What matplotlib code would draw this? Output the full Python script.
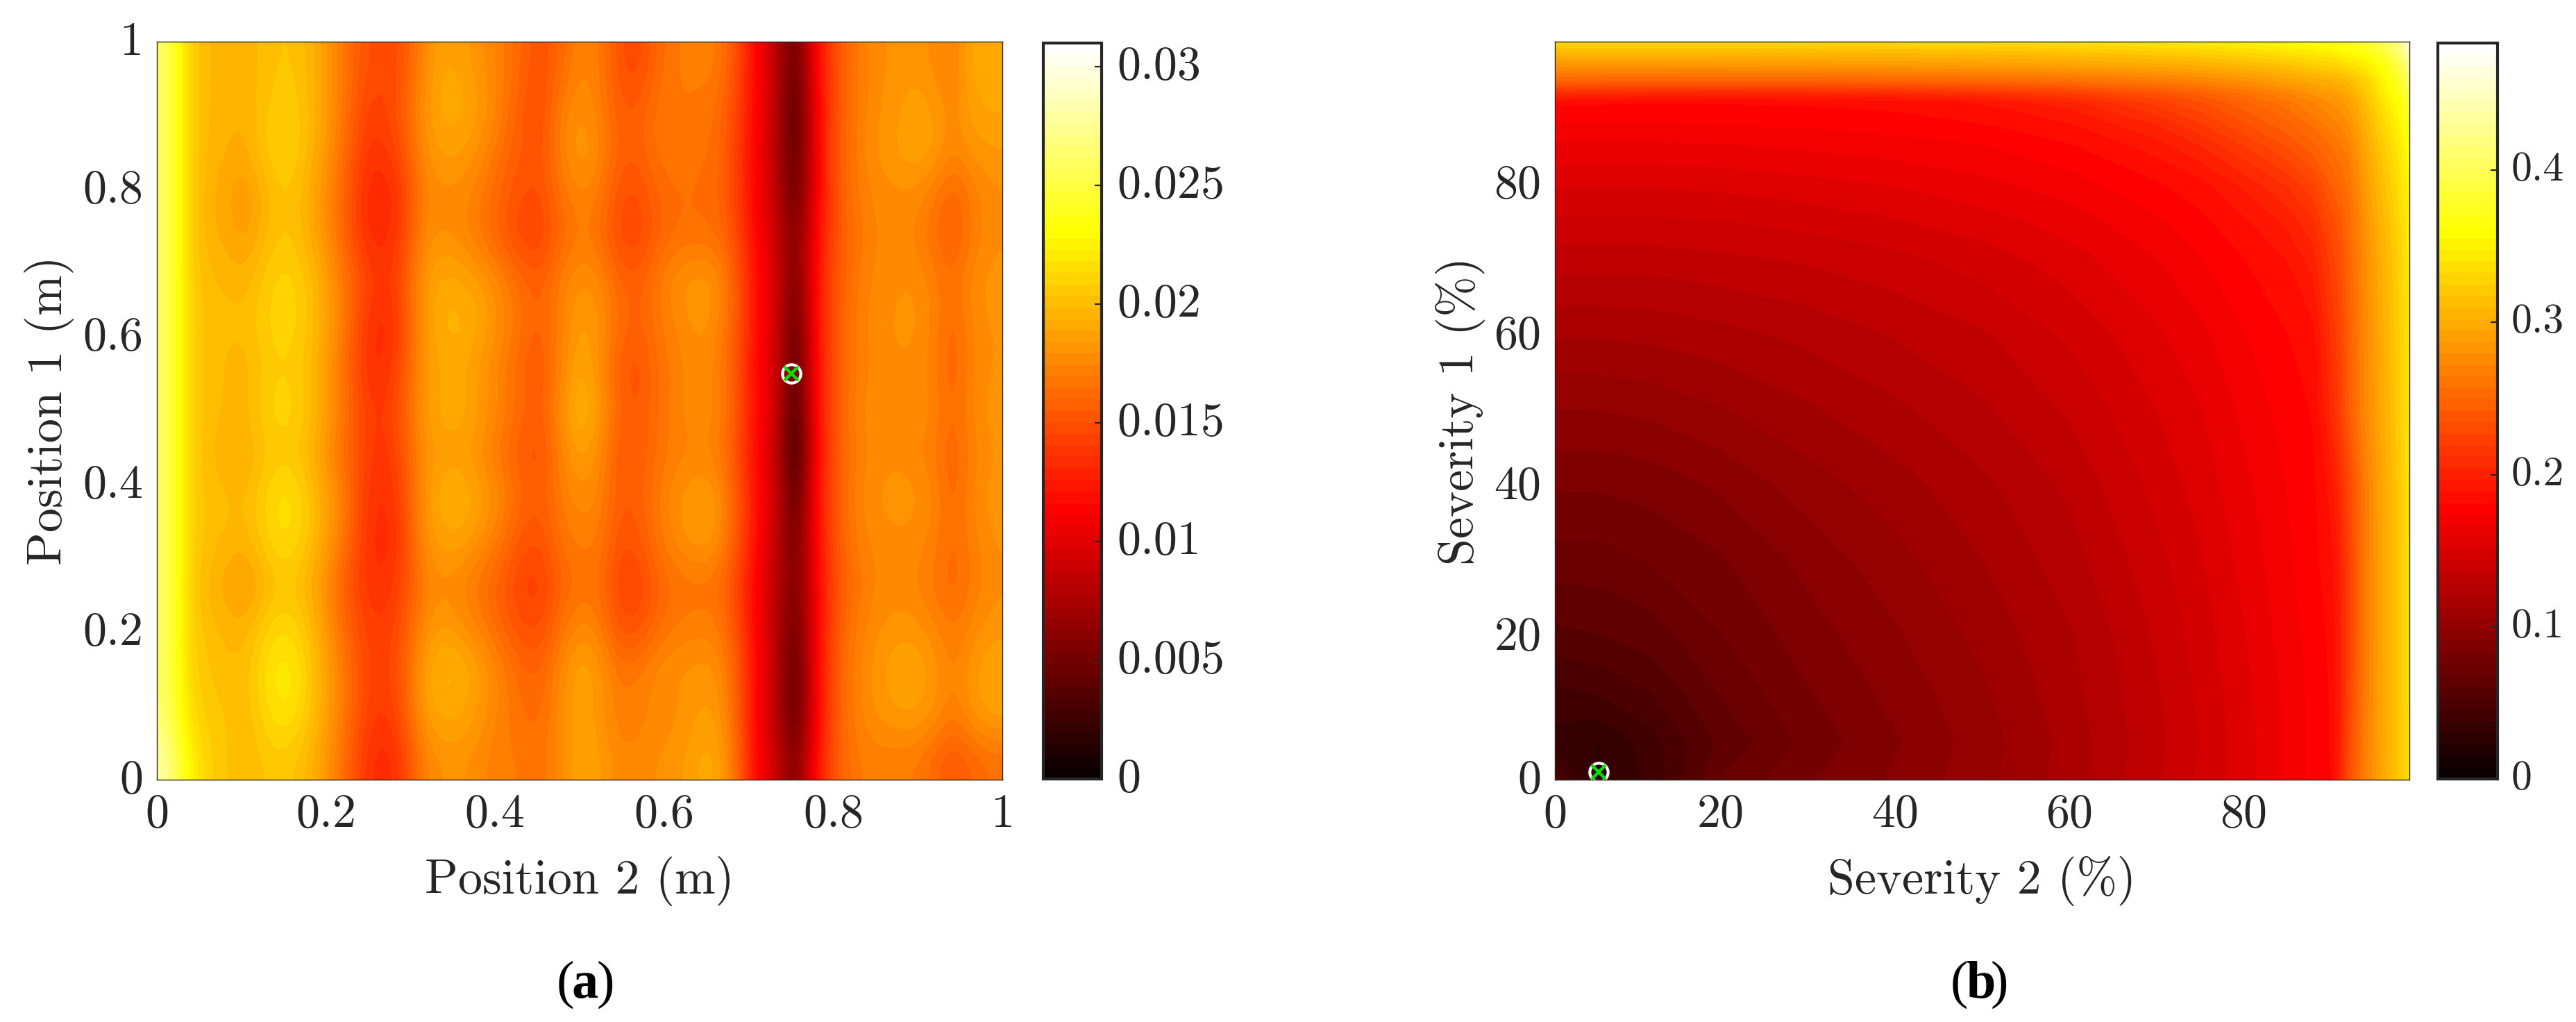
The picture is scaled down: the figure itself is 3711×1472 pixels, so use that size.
import numpy as np
import matplotlib
matplotlib.use('Agg')
import matplotlib.pyplot as plt
from matplotlib.cm import ScalarMappable
from matplotlib.colors import Normalize
from matplotlib.transforms import ScaledTranslation

plt.rcParams['font.family'] = ['cmr10', 'DejaVu Serif']
plt.rcParams['axes.formatter.use_mathtext'] = True

### data setting
# panel a, units of 1e-4, rows from y=1 down to y=0, columns from x=0 to x=1
position_cost = [
    [262,212,198,197,196,200,205,200,188,168,152,146,150,175,190,187,180,172,160,150,160,175,172,150,145,162,170,172,172,150,115,84,38,115,150,168,178,180,182,178,172,192,194],
    [262,212,198,196,193,203,208,203,188,168,146,142,155,180,193,192,185,172,155,146,170,180,172,155,155,168,170,168,166,145,115,84,28,110,150,168,178,182,188,184,175,188,190],
    [262,212,198,194,192,205,210,203,186,165,140,138,150,178,186,186,178,165,155,152,172,186,178,158,157,168,168,166,164,143,112,84,30,110,152,170,180,184,190,187,175,182,184],
    [262,212,196,190,182,195,205,197,180,160,135,128,140,172,178,176,170,158,150,148,165,175,170,150,148,160,165,164,162,143,112,87,35,110,150,168,176,178,178,170,158,172,178],
    [262,212,196,192,185,198,205,198,182,160,135,132,142,176,180,176,168,156,145,143,160,170,165,146,145,158,165,165,165,148,115,92,50,115,150,166,174,176,174,165,155,170,178],
    [262,212,200,198,196,206,212,206,190,170,148,136,150,182,192,190,185,175,163,156,172,180,178,160,156,170,180,184,182,155,118,97,42,120,152,168,176,178,180,172,165,178,182],
    [262,212,202,200,200,208,213,207,192,170,142,130,145,182,196,197,190,178,166,158,172,186,182,164,158,168,176,182,178,155,118,97,35,120,153,170,178,180,182,174,160,176,180],
    [262,212,201,198,195,205,208,203,188,166,138,132,150,180,190,190,182,172,160,152,172,192,180,156,150,165,172,178,174,152,116,94,28,118,152,170,176,178,178,172,158,174,180],
    [262,212,202,198,197,208,213,206,190,168,145,138,155,183,192,193,184,174,162,155,178,198,186,160,153,165,174,178,176,155,118,96,22,118,154,172,178,180,180,174,162,176,182],
    [262,212,200,194,192,202,206,200,184,162,145,135,150,178,186,185,178,166,155,150,172,188,178,154,154,166,172,174,172,150,115,90,14,115,152,170,176,178,176,170,158,172,180],
    [262,212,202,200,198,210,218,210,192,172,142,132,145,180,194,196,188,176,162,155,170,178,175,155,157,170,180,186,184,156,120,94,32,118,154,172,180,182,182,176,160,176,182],
    [262,212,202,198,196,208,216,208,190,168,140,130,142,178,188,188,180,168,152,150,165,172,170,150,152,168,178,184,182,154,118,88,42,115,152,170,176,178,178,172,162,172,180],
    [262,212,198,190,183,195,204,198,180,158,138,135,145,170,178,172,165,155,143,140,158,165,165,145,143,158,165,166,165,146,113,84,48,110,150,166,174,176,174,168,160,170,178],
    [262,212,201,197,195,208,214,206,186,162,145,140,150,176,186,180,172,160,150,148,165,178,172,150,150,164,170,172,172,150,114,82,40,110,152,170,178,182,182,176,168,176,182],
    [262,214,204,200,200,216,224,214,192,170,148,140,155,186,198,196,186,174,162,158,176,190,184,168,170,178,180,182,182,158,116,86,32,112,155,172,182,188,190,184,172,184,190],
    [264,218,206,204,198,212,220,210,190,170,146,138,150,184,192,190,182,172,165,162,178,188,182,170,172,176,178,184,186,158,114,82,34,110,155,172,180,184,186,180,170,182,188],
    [280,230,210,204,198,204,206,200,186,164,140,130,140,172,180,180,176,170,170,166,176,190,186,176,176,180,182,190,192,165,115,92,48,120,155,168,172,170,170,162,152,160,165],
]
position_best = [0.75, 0.55]

# panel b, units of 1e-3, rows from bottom to top
severity_nodes = [1, 6, 12, 20, 30, 40, 50, 60, 70, 75, 80, 85, 88, 90, 91, 92, 94, 96, 98, 99]
severity_cost = [
    [50,28,40,68,82,92,103,117,135,145,155,168,176,181,200,228,270,298,322,335],
    [35,30,42,62,78,90,102,116,134,144,155,168,176,182,198,225,268,297,322,335],
    [42,45,52,68,82,93,104,118,135,145,156,168,176,182,196,222,266,296,322,336],
    [58,60,64,75,87,97,108,120,137,147,158,170,177,183,196,220,265,296,322,336],
    [72,72,76,82,93,103,113,125,141,150,161,172,179,186,198,220,265,296,322,337],
    [84,84,86,92,102,110,119,130,146,154,164,174,180,192,206,226,266,296,323,338],
    [98,98,100,105,112,119,127,137,151,158,168,177,182,205,220,240,275,300,325,340],
    [114,114,115,118,123,129,135,145,157,164,173,181,186,212,224,242,276,301,326,341],
    [132,132,132,134,137,141,147,155,166,173,181,189,200,222,232,248,278,304,328,343],
    [142,142,142,143,146,150,155,162,172,179,187,198,210,230,238,252,282,308,332,346],
    [152,152,152,153,156,159,164,170,180,186,198,212,226,242,250,258,288,314,338,352],
    [164,164,164,165,167,170,173,180,192,203,218,234,246,256,262,268,296,322,346,362],
    [173,173,173,174,175,177,181,188,204,218,233,247,258,268,272,278,304,330,354,372],
    [178,178,178,179,180,182,186,196,216,228,242,256,268,276,280,286,310,336,360,380],
    [184,183,182,182,183,185,190,202,222,234,248,262,272,280,284,290,314,340,364,388],
    [205,203,201,200,201,203,208,217,232,243,256,270,280,286,290,295,318,345,370,395],
    [252,250,250,250,250,252,255,260,268,274,282,292,300,304,308,312,328,352,380,412],
    [285,285,285,286,287,288,290,294,300,304,310,318,325,328,332,336,346,366,395,430],
    [315,315,315,315,316,317,319,322,328,332,338,345,350,354,358,362,372,390,420,450],
    [332,332,332,332,333,334,335,338,342,345,350,356,360,364,368,372,382,400,430,460],
]
severity_best = [6, 2]

position_ticks = [0, 0.2, 0.4, 0.6, 0.8, 1]
position_labels = ['0', '0.2', '0.4', '0.6', '0.8', '1']
severity_ticks = [1, 20, 40, 60, 80]
severity_labels = ['0', '20', '40', '60', '80']
cbar_a_ticks = [0, 0.005, 0.01, 0.015, 0.02, 0.025, 0.03]
cbar_a_labels = ['0', '0.005', '0.01', '0.015', '0.02', '0.025', '0.03']
cbar_b_ticks = [0, 0.1, 0.2, 0.3, 0.4]
cbar_b_labels = ['0', '0.1', '0.2', '0.3', '0.4']
vmax_a = 0.031
vmax_b = 0.4836

W, H = 3712, 1472
TXT = '#262626'
FS = 49


def box(x0, y0, x1, y1):
    # pixel box (from the top left) to figure fractions
    return [x0 / W, 1 - y1 / H, (x1 - x0) / W, (y1 - y0) / H]


def nudge_up(labels, px):
    for t in labels:
        t.set_transform(t.get_transform() + ScaledTranslation(0, px / 100, fig.dpi_scale_trans))


def style_main(ax, xt, xl, yt, yl, xname, yname):
    ax.set_xticks(xt)
    ax.set_xticklabels(xl, fontsize=FS, color=TXT)
    ax.set_yticks(yt)
    ax.set_yticklabels(yl, fontsize=FS, color=TXT)
    ax.tick_params(length=0, pad=14)
    ax.set_xlabel(xname, fontsize=50.5, color=TXT, labelpad=21)
    ax.set_ylabel(yname, fontsize=50.5, color=TXT, labelpad=9)
    nudge_up(ax.get_yticklabels(), 5)
    for s in ax.spines.values():
        s.set_linewidth(1.0)
        s.set_color(TXT)


def best_marker(ax, pt):
    ax.plot(pt[0], pt[1], 'o', mfc='none', mec='white', ms=19, mew=3)
    ax.plot(pt[0], pt[1], 'x', color='#00e000', ms=15, mew=3.2)


def add_cbar(rect, vmax, ticks, labels, fs, pad):
    cax = fig.add_axes(box(*rect))
    sm = ScalarMappable(norm=Normalize(0, vmax), cmap=hot)
    cb = fig.colorbar(sm, cax=cax, ticks=ticks)
    cb.ax.set_yticklabels(labels, fontsize=fs, color=TXT)
    cb.ax.tick_params(direction='in', length=7.5, width=1.6, color=TXT, pad=pad)
    cb.outline.set_linewidth(3)
    cb.outline.set_edgecolor(TXT)
    nudge_up(cb.ax.get_yticklabels(), 6)


def caption(x, letter):
    # regular brackets, bold letter
    kw = dict(fontsize=55, va='baseline', family='Liberation Serif', color='black')
    y = 1 - 1437 / H
    fig.text(x / W, y, '(', ha='left', **kw)
    fig.text((x + 22) / W, y, letter, ha='left', weight='bold', **kw)
    fig.text((x + 58) / W, y, ')', ha='left', **kw)


hot = plt.get_cmap('hot', 64)
fig = plt.figure(figsize=(W / 100, H / 100), dpi=100)

# panel a
ax1 = fig.add_axes(box(226, 60, 1444, 1123))
ax1.imshow(np.array(position_cost) * 1e-4, cmap=hot, vmin=0, vmax=vmax_a, extent=[0, 1, 0, 1],
           aspect='auto', interpolation='bicubic', interpolation_stage='data')
best_marker(ax1, position_best)
ax1.set_xlim(0, 1)
ax1.set_ylim(0, 1)
style_main(ax1, position_ticks, position_labels, position_ticks, position_labels,
           'Position 2 (m)', 'Position 1 (m)')
add_cbar((1503, 62, 1587, 1122), vmax_a, cbar_a_ticks, cbar_a_labels, FS, 16)

# panel b
ax2 = fig.add_axes(box(2240, 60, 3471, 1123))
levels = np.linspace(0, vmax_b, 65)
ax2.contourf(severity_nodes, severity_nodes, np.array(severity_cost) * 1e-3, levels=levels,
             cmap=hot, vmin=0, vmax=vmax_b)
best_marker(ax2, severity_best)
ax2.set_xlim(1, 99)
ax2.set_ylim(1, 99)
style_main(ax2, severity_ticks, severity_labels, severity_ticks, severity_labels,
           'Severity 2 (%)', 'Severity 1 (%)')
add_cbar((3512, 62, 3598, 1122), vmax_b, cbar_b_ticks, cbar_b_labels, 43, 14)

# captions
caption(802, 'a')
caption(2810, 'b')

fig.savefig('out.png', dpi=100)
